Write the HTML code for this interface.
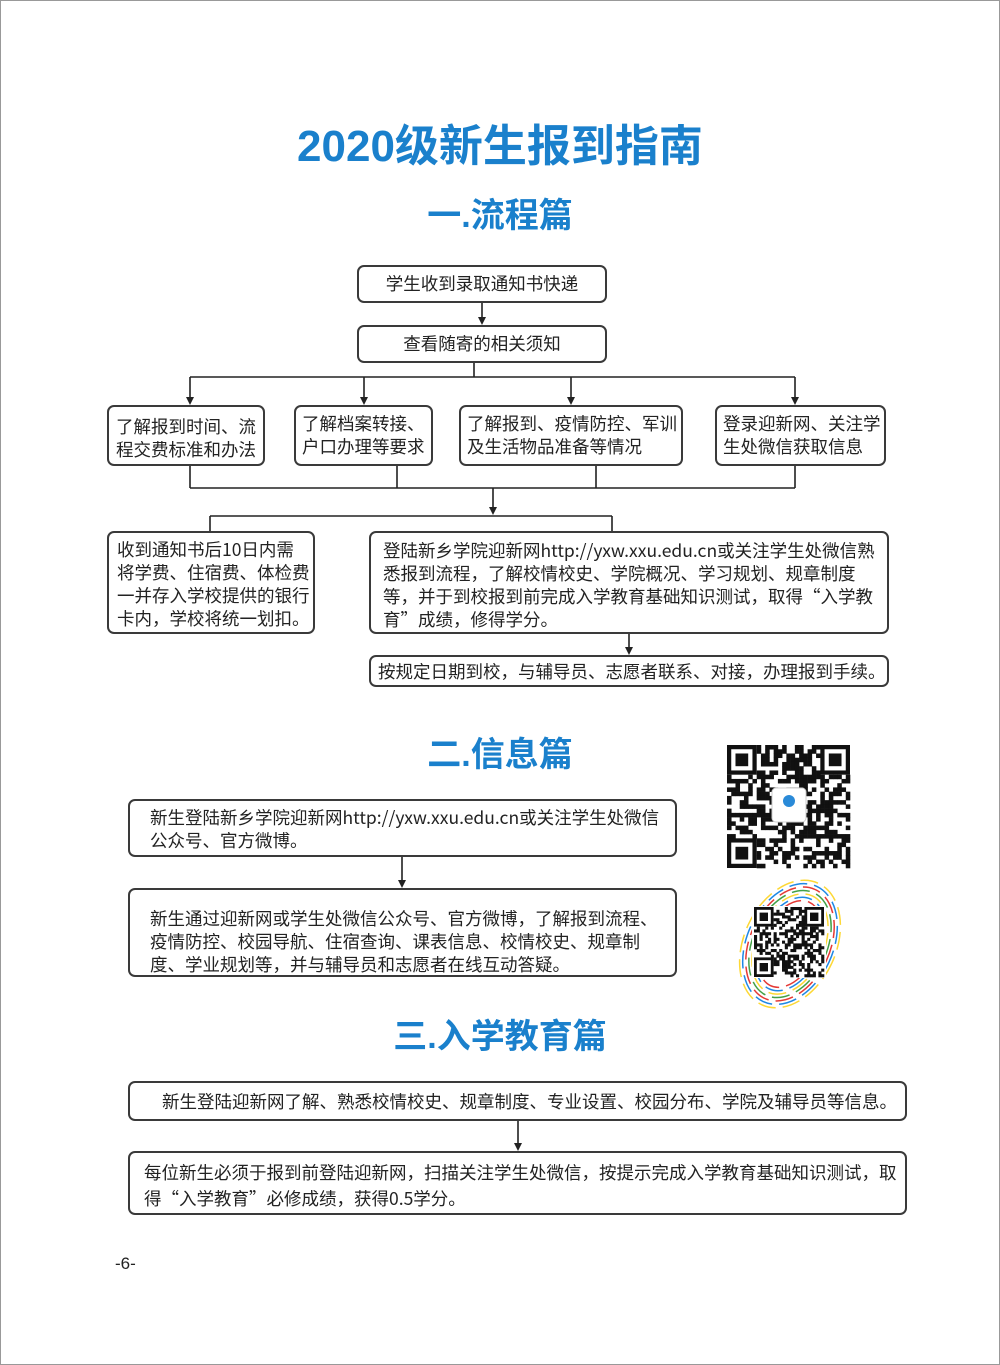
<!DOCTYPE html>
<html><head><meta charset="utf-8">
<style>
body{margin:0;background:#fff;}
#pg{position:relative;width:1000px;height:1365px;overflow:hidden;font-family:"Liberation Sans","Noto Sans CJK SC",sans-serif;color:#222;}
.b{position:absolute;border:2px solid #3a3a3a;border-radius:7px;box-sizing:border-box;font-size:17.5px;line-height:23px;background:#fff;white-space:nowrap;font-family:"Noto Sans CJK SC","Liberation Sans",sans-serif;}
.h{position:absolute;left:0;width:1000px;text-align:center;color:#1a80cc;font-weight:bold;}
</style></head><body>
<div id="pg">
<svg width="1000" height="1365" style="position:absolute;left:0;top:0">
<rect x="0.5" y="0.5" width="999" height="1364" fill="none" stroke="#999"/>
<g stroke="#222" stroke-width="1.6" fill="none">
<line x1="482" y1="303" x2="482" y2="318"/>
<line x1="474" y1="363" x2="474" y2="377"/>
<line x1="190" y1="377" x2="795" y2="377"/>
<line x1="190" y1="377" x2="190" y2="398"/>
<line x1="364" y1="377" x2="364" y2="398"/>
<line x1="571" y1="377" x2="571" y2="398"/>
<line x1="795" y1="377" x2="795" y2="398"/>
<line x1="190" y1="466" x2="190" y2="488"/>
<line x1="397" y1="466" x2="397" y2="488"/>
<line x1="596" y1="466" x2="596" y2="488"/>
<line x1="795" y1="466" x2="795" y2="488"/>
<line x1="190" y1="488" x2="795" y2="488"/>
<line x1="493" y1="488" x2="493" y2="508"/>
<line x1="210" y1="516" x2="612" y2="516"/>
<line x1="210" y1="516" x2="210" y2="531"/>
<line x1="612" y1="516" x2="612" y2="531"/>
<line x1="629" y1="634" x2="629" y2="648"/>
<line x1="402" y1="857" x2="402" y2="881"/>
<line x1="518" y1="1121" x2="518" y2="1144"/>
</g>
<g fill="#222">
<path d="M478,317 h8 l-4,8 z"/>
<path d="M186,397 h8 l-4,8 z"/>
<path d="M360,397 h8 l-4,8 z"/>
<path d="M567,397 h8 l-4,8 z"/>
<path d="M791,397 h8 l-4,8 z"/>
<path d="M489,507 h8 l-4,8 z"/>
<path d="M625,647 h8 l-4,8 z"/>
<path d="M398,880 h8 l-4,8 z"/>
<path d="M514,1143 h8 l-4,8 z"/>
</g>
<g id="qr1"></g><g id="qr2"></g>
</svg>
<div class="h" style="top:120px;font-size:44px;line-height:54px">2020级新生报到指南</div>
<div class="h" style="top:195px;font-size:34px;line-height:42px">一.流程篇</div>
<div class="b" style="left:357px;top:265px;width:250px;height:38px;text-align:center;line-height:34px">学生收到录取通知书快递</div>
<div class="b" style="left:357px;top:325px;width:250px;height:38px;text-align:center;line-height:34px">查看随寄的相关须知</div>
<div class="b" style="left:107px;top:405px;width:158px;height:61px;padding:8px 0 0 7px">了解报到时间、流<br>程交费标准和办法</div>
<div class="b" style="left:294px;top:405px;width:139px;height:61px;padding:5px 0 0 6px">了解档案转接、<br>户口办理等要求</div>
<div class="b" style="left:459px;top:405px;width:224px;height:61px;padding:5px 0 0 6px">了解报到、疫情防控、军训<br>及生活物品准备等情况</div>
<div class="b" style="left:715px;top:405px;width:171px;height:61px;padding:5px 0 0 6px">登录迎新网、关注学<br>生处微信获取信息</div>
<div class="b" style="left:107px;top:531px;width:208px;height:103px;padding:5px 0 0 8px">收到通知书后10日内需<br>将学费、住宿费、体检费<br>一并存入学校提供的银行<br>卡内，学校将统一划扣。</div>
<div class="b" style="left:369px;top:531px;width:520px;height:103px;padding:6px 0 0 12px">登陆新乡学院迎新网http://yxw.xxu.edu.cn或关注学生处微信熟<br>悉报到流程，了解校情校史、学院概况、学习规划、规章制度<br>等，并于到校报到前完成入学教育基础知识测试，取得“入学教<br>育”成绩，修得学分。</div>
<div class="b" style="left:369px;top:655px;width:520px;height:32px;padding:2px 0 0 7px;line-height:26px">按规定日期到校，与辅导员、志愿者联系、对接，办理报到手续。</div>
<div class="h" style="top:734px;font-size:34px;line-height:42px">二.信息篇</div>
<div class="b" style="left:128px;top:799px;width:549px;height:58px;padding:5px 0 0 20px">新生登陆新乡学院迎新网http://yxw.xxu.edu.cn或关注学生处微信<br>公众号、官方微博。</div>
<div class="b" style="left:128px;top:888px;width:549px;height:89px;padding:17px 0 0 20px">新生通过迎新网或学生处微信公众号、官方微博，了解报到流程、<br>疫情防控、校园导航、住宿查询、课表信息、校情校史、规章制<br>度、学业规划等，并与辅导员和志愿者在线互动答疑。</div>
<div class="h" style="top:1016px;font-size:34px;line-height:42px">三.入学教育篇</div>
<div class="b" style="left:128px;top:1081px;width:779px;height:40px;padding:0 0 0 32px;line-height:38px">新生登陆迎新网了解、熟悉校情校史、规章制度、专业设置、校园分布、学院及辅导员等信息。</div>
<div class="b" style="left:128px;top:1151px;width:779px;height:64px;padding:7px 0 0 14px;line-height:26px">每位新生必须于报到前登陆迎新网，扫描关注学生处微信，按提示完成入学教育基础知识测试，取<br>得“入学教育”必修成绩，获得0.5学分。</div>
<div style="position:absolute;left:115px;top:1254px;font-size:17px">-6-</div>
</div>
<script>
function qr(id,x,y,s,n,seed){var g=document.getElementById(id),h='',c=s/n,r=seed;
function rnd(){r=(r*9301+49297)%233280;return r/233280;}
for(var i=0;i<n;i++)for(var j=0;j<n;j++){var f=(i<7&&j<7)||(i<7&&j>=n-7)||(i>=n-7&&j<7);if(f)continue;if(rnd()<0.5)h+='<rect x="'+(x+j*c)+'" y="'+(y+i*c)+'" width="'+(c+0.3)+'" height="'+(c+0.3)+'" fill="#111"/>';}
[[0,0],[0,n-7],[n-7,0]].forEach(function(p){var X=x+p[1]*c,Y=y+p[0]*c;h+='<rect x="'+(X+c/2)+'" y="'+(Y+c/2)+'" width="'+(6*c)+'" height="'+(6*c)+'" fill="none" stroke="#111" stroke-width="'+c+'"/><rect x="'+(X+2*c)+'" y="'+(Y+2*c)+'" width="'+(3*c)+'" height="'+(3*c)+'" fill="#111"/>';});
g.innerHTML+=h;}
var g2=document.getElementById('qr2'),cols=['#e53935','#1e88e5','#fdd835','#43a047'],h='';
for(var k=0;k<7;k++){var rx=28+k*3,ry=46+k*3.5;h+='<ellipse cx="790" cy="944" rx="'+rx+'" ry="'+ry+'" transform="rotate(25 790 944)" fill="none" stroke="'+cols[k%4]+'" stroke-width="1.5" stroke-dasharray="18 7"/>';}
g2.innerHTML=h+'<rect x="752" y="906" width="74" height="72" fill="#fff"/>';
qr('qr1',727,745,123,29,7);
document.getElementById('qr1').innerHTML+='<rect x="772" y="788" width="34" height="34" rx="4" fill="#fff" stroke="#ccc"/><circle cx="789" cy="801" r="6" fill="#2a8ad8"/>';
qr('qr2',754,907,70,25,13);
</script>
</body></html>
